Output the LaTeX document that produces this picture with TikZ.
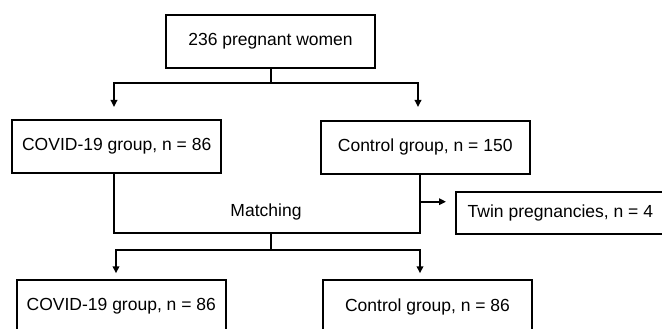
\documentclass[tikz,border=0pt]{standalone}
\usepackage{fontspec}
\setmainfont{Liberation Sans}
\usetikzlibrary{arrows.meta}
\definecolor{LineColour}{RGB}{0,0,0}

\begin{document}
\begin{tikzpicture}[x=1pt, y=-1pt, font=\fontsize{17.5}{21}\selectfont,
  box/.style={draw=LineColour, line width=1.7pt, minimum width=209pt, minimum height=53pt, inner sep=0pt},
  link/.style={draw=LineColour, line width=1.7pt},
  arrow/.style={link, -{Triangle[length=7pt, width=6.5pt]}}]
  \useasboundingbox (0,0) rectangle (662,329);
  \clip (0,0) rectangle (662,329);
  % boxes
  \node[box] (total) at (270.5,41.5) {236 pregnant women};
  \foreach \nm/\x/\y/\lbl in {covA/116.7/146.4/{COVID-19 group, n = 86},
                              ctlA/425.2/147.4/{Control group, n = 150},
                              covB/121.3/306.5/{COVID-19 group, n = 86},
                              ctlB/427.5/306.5/{Control group, n = 86}} {
    \node[box] (\nm) at (\x,\y) {\lbl};
  }
  \node[box, minimum height=42.3pt] (twin) at (560.4,212.9) {Twin pregnancies, n = 4};
  \node (match) at (266,212.4) {Matching};
  % split points and arrow ends
  \coordinate (s0) at (270.7,82.7);
  \coordinate (aL) at (114,107);
  \coordinate (aR) at (418,107);
  \coordinate (mL) at (114.3,232.7);
  \coordinate (mR) at (420.3,232.7);
  \coordinate (s1) at (270.7,250);
  \coordinate (bL) at (116,273.3);
  \coordinate (bR) at (420,273.3);
  \coordinate (tw) at (446,201.7);
  % connectors
  \draw[link] (total.south -| s0) -- (s0);
  \draw[arrow] (s0) -| (aL);
  \draw[arrow] (s0) -| (aR);
  \draw[link] (covA.south -| mL) -- (mL) -- (mR) -- (ctlA.south -| mR);
  \draw[arrow] (tw -| mR) -- (tw);
  \draw[link] (mL -| s1) -- (s1);
  \draw[arrow] (s1) -| (bL);
  \draw[arrow] (s1) -| (bR);
\end{tikzpicture}
\end{document}
